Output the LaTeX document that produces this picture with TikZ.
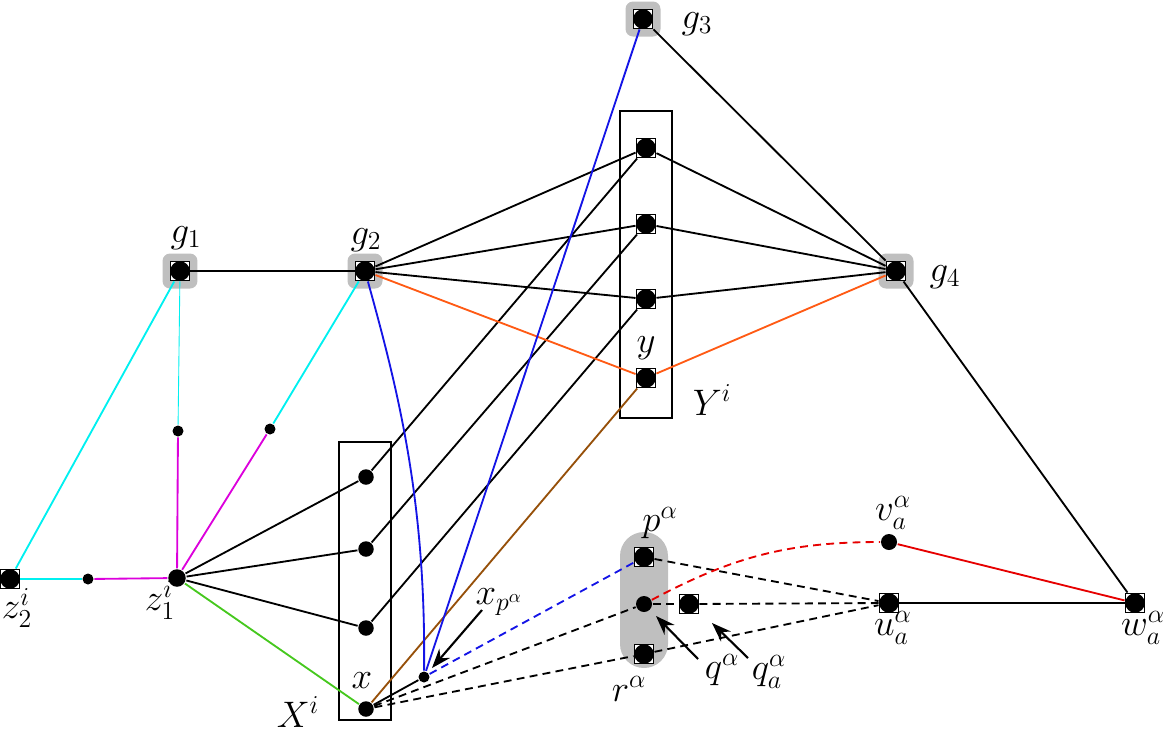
\RequirePackage{fix-cm}
\documentclass[tikz,border=0pt]{standalone}
\usetikzlibrary{arrows.meta}
\definecolor{mycyan}{RGB}{0,240,240}
\definecolor{mymag}{RGB}{220,0,220}
\definecolor{mygreen}{RGB}{70,200,30}
\definecolor{myorange}{RGB}{255,90,20}
\definecolor{mybrown}{RGB}{150,80,10}
\definecolor{myblue}{RGB}{20,20,230}
\definecolor{myred}{RGB}{230,0,0}
\tikzset{
  sq/.style={draw, line width=1.1pt, fill=white, minimum size=0.38cm, inner sep=0pt,
    path picture={\fill[black] (path picture bounding box.center) circle (0.195cm);}},
  bdot/.style={circle, fill, inner sep=0pt, minimum size=0.32cm},
  sdot/.style={circle, fill, inner sep=0pt, minimum size=0.22cm},
  gbg/.style={fill=black!25, rounded corners=0.15cm, minimum size=0.7cm, inner sep=0pt},
  pgroup/.style={fill=black!25, rounded corners=0.48cm, minimum width=0.96cm, minimum height=2.72cm, inner sep=0pt},
  setbox/.style={draw, line width=1.1pt, inner sep=0pt, minimum width=1.04cm},
  lab/.style={inner sep=0pt},
  dsh/.style={dash pattern=on 4.5pt off 3pt},
  ann/.style={-{Stealth[length=11pt,width=8pt]}, line width=1.2pt},
}
\begin{document}
\begin{tikzpicture}[x=0.02cm,y=-0.02cm, font=\fontsize{21}{25}\selectfont, line width=1.05pt]
\useasboundingbox (0,0) rectangle (1163,752);
% backgrounds
\node[gbg] (g1bg) at (180,271) {};
\node[gbg] (g2bg) at (365,271) {};
\node[gbg] (g3bg) at (643,19) {};
\node[gbg] (g4bg) at (896,271) {};
\node[pgroup] (pbg) at (644,600) {};
% set boxes
\node[setbox, minimum height=6.14cm] (Ybox) at (646,264.5) {};
\node[setbox, minimum height=5.56cm] (Xbox) at (365,581) {};
% vertices
\node[sq] (g1) at (180,271) {};
\node[sq] (g2) at (365,271) {};
\node[sq] (g3) at (643,19) {};
\node[sq] (g4) at (896,271) {};
\node[sq] (y1) at (646,148) {};
\node[sq] (y2) at (646,224) {};
\node[sq] (y3) at (646,299) {};
\node[sq] (y) at (646,378) {};
\node[bdot, minimum size=0.31cm] (x1) at (366,477) {};
\node[bdot, minimum size=0.31cm] (x2) at (366,549) {};
\node[bdot, minimum size=0.31cm] (x3) at (366,628) {};
\node[bdot, minimum size=0.31cm] (x) at (366,709) {};
\node[bdot, minimum size=0.35cm] (z1) at (177,578) {};
\node[sq] (z2) at (10,579) {};
\node[sdot] (m1) at (88,579) {};
\node[sdot] (m2) at (178,431) {};
\node[sdot] (m3) at (270,429) {};
\node[sdot] (xp) at (424,677) {};
\node[sq] (p) at (644,557) {};
\node[bdot] (q) at (644,604) {};
\node[sq] (r) at (644,654) {};
\node[sq] (qa) at (689,604) {};
\node[bdot] (v) at (889,542) {};
\node[sq] (u) at (889,603) {};
\node[sq] (w) at (1135,603) {};
% labels
\node[lab] (lg1) at (186,238) {$g_1$};
\node[lab] (lg2) at (366,240) {$g_2$};
\node[lab] (lg3) at (697,24) {$g_3$};
\node[lab] (lg4) at (945,277) {$g_4$};
\node[lab] (ly) at (646,348) {$y$};
\node[lab] (lY) at (712,400) {$Y^i$};
\node[lab] (lx) at (362,681) {$x$};
\node[lab] (lX) at (298,712) {$X^i$};
\node[lab] (lz1) at (160,600) {$z_1^i$};
\node[lab] (lz2) at (17,608) {$z_2^i$};
\node[lab] (lxp) at (499,602) {$x_{p^\alpha}$};
\node[lab] (lp) at (660,523) {$p^\alpha$};
\node[lab] (lq) at (722,670) {$q^\alpha$};
\node[lab] (lqa) at (769,672) {$q_a^\alpha$};
\node[lab] (lr) at (629,689) {$r^\alpha$};
\node[lab] (lv) at (893,513) {$v_a^\alpha$};
\node[lab] (lu) at (893,628) {$u_a^\alpha$};
\node[lab] (lw) at (1143,628) {$w_a^\alpha$};
% cyan / magenta
\draw[mycyan] (z2) -- (g1);
\draw[mycyan] (z2) -- (m1);
\draw[mycyan, line width=0.5pt] (m2) -- (g1);
\draw[mycyan] (m3) -- (g2);
\draw[mymag] (m1) -- (z1);
\draw[mymag] (z1) -- (m2);
\draw[mymag] (z1) -- (m3);
% z1 to X
\draw (z1) -- (x1);
\draw (z1) -- (x2);
\draw (z1) -- (x3);
\draw[mygreen] (z1) -- (x);
% X to Y
\draw (x1) -- (y1);
\draw (x2) -- (y2);
\draw (x3) -- (y3);
\draw[mybrown] (x) -- (y);
% g edges
\draw (g1) -- (g2);
\draw (g2) -- (y1);
\draw (g2) -- (y2);
\draw (g2) -- (y3);
\draw[myorange] (g2) -- (y);
\draw (g4) -- (y1);
\draw (g4) -- (y2);
\draw (g4) -- (y3);
\draw[myorange] (g4) -- (y);
\draw (g3) -- (g4);
\draw (g4) -- (w);
% blue
\draw[myblue] (g3) -- (xp);
\draw[myblue] (g2) .. controls (398,390) and (426,500) .. (xp);
% bottom gadget
\draw (x) -- (xp);
\draw[myblue, dsh] (xp) -- (p);
\draw[dsh] (x) -- (q);
\draw[dsh] (x) -- (r);
\draw[dsh] (p) -- (u);
\draw[dsh] (q) -- (qa);
\draw[dsh] (qa) -- (u);
\draw[dsh] (r) -- (u);
\draw[myred, dsh] (q) to[out=28, in=180] (v);
\draw[myred] (v) -- (w);
\draw (u) -- (w);
% annotation arrows
\coordinate (a1s) at (482,610);
\coordinate (a1e) at (432,668);
\coordinate (a2s) at (698,659);
\coordinate (a2e) at (656,616);
\coordinate (a3s) at (748,658);
\coordinate (a3e) at (712,623);
\draw[ann] (a1s) -- (a1e);
\draw[ann] (a2s) -- (a2e);
\draw[ann] (a3s) -- (a3e);
\end{tikzpicture}
\end{document}
